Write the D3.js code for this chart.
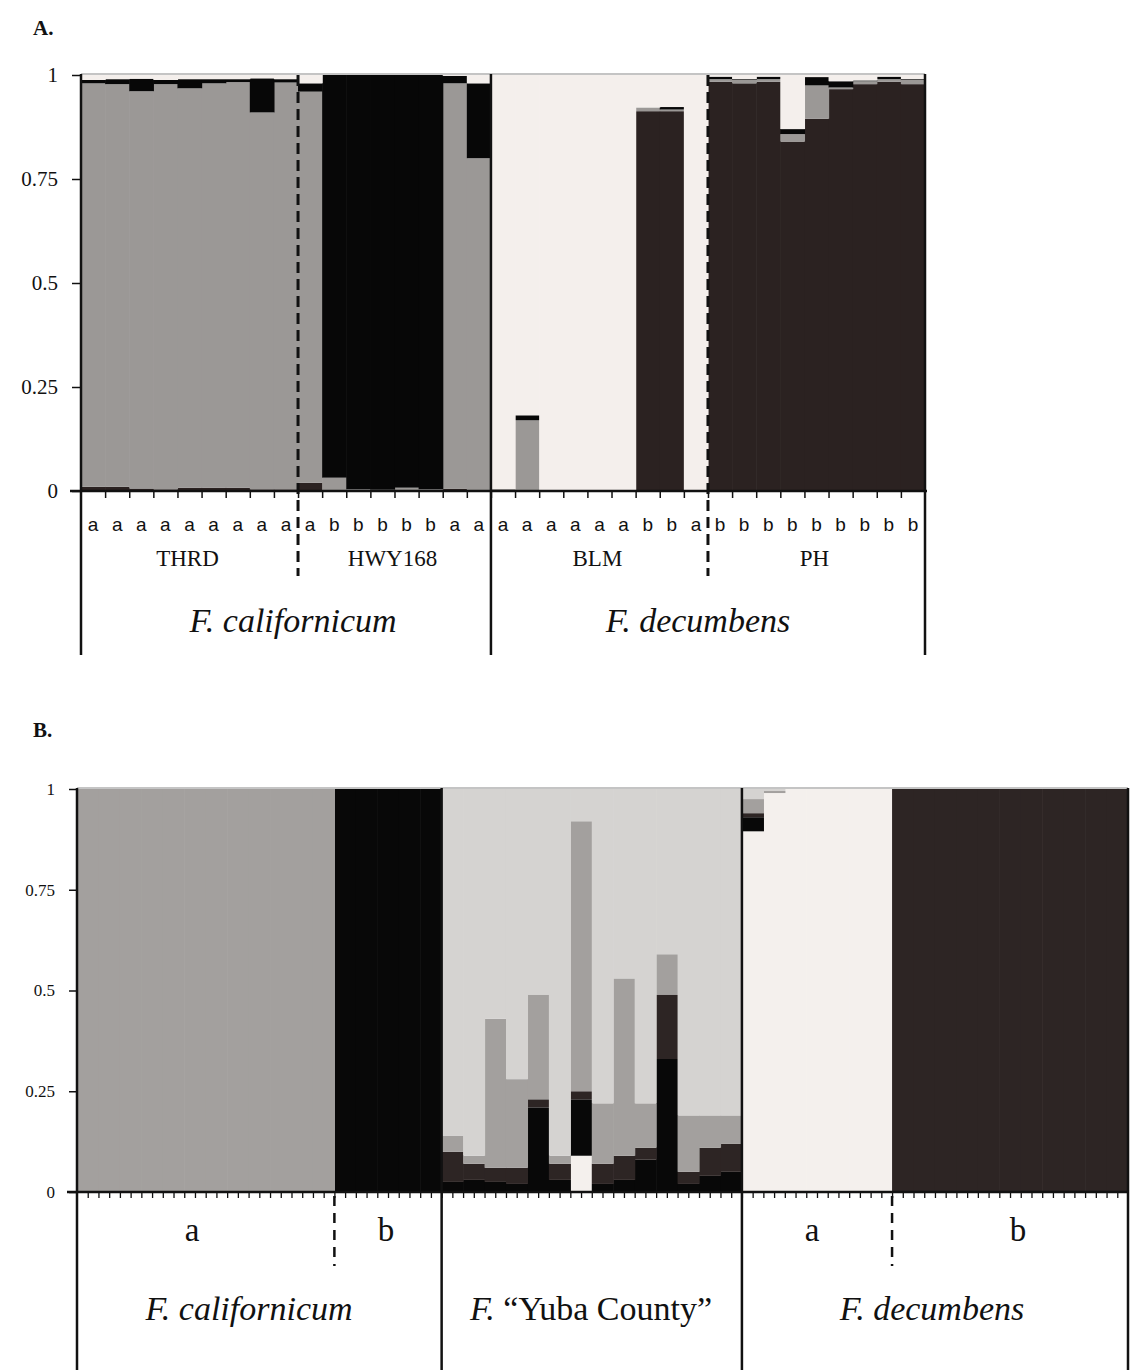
<!DOCTYPE html>
<html>
<head>
<meta charset="utf-8">
<script src="https://cdn.jsdelivr.net/npm/d3@7/dist/d3.min.js"></script>
<style>
  body { margin: 0; background: #ffffff; }
  text { font-family: "Liberation Serif", "Times New Roman", serif; fill: #111; }
</style>
</head>
<body>
<svg id="chart" width="1137" height="1370"></svg>
<script>
// ---- Panel A data (35 individuals, K = 4) ----
const popsA = ["THRD", "HWY168", "BLM", "PH"];
const popSizesA = [9, 8, 9, 9];
const lettersA = ["a","a","a","a","a","a","a","a","a",
                  "a","b","b","b","b","b","a","a",
                  "a","a","a","a","a","a","b","b","a",
                  "b","b","b","b","b","b","b","b","b"];
const clusterDarkA  = [.010,.010,.006,.004,.008,.008,.008,.004,.004, .020,0,0,0,0,0,.005,0, .004,0,0,0,0,0,.913,.913,0, .984,.980,.984,.840,.895,.966,.978,.984,.978];
const clusterGreyA  = [.970,.968,.955,.974,.960,.972,.975,.906,.978, .940,.032,.004,.003,.008,.004,.975,.800, 0,.170,0,0,0,0,.009,.004,0, .006,.008,.006,.018,.080,.004,.007,.006,.010];
const clusterBlackA = [.008,.012,.030,.010,.022,.010,.007,.082,.008, .020,.968,.996,.997,.992,.996,.018,.180, 0,.012,0,0,0,0,0,.006,0, .006,.002,.006,.012,.020,.015,.002,.006,.002];
const clusterLightA = [.012,.010,.009,.012,.010,.010,.010,.008,.010, .020,0,0,0,0,0,.002,.020, .996,.818,1,1,1,1,.078,.077,1, .004,.010,.004,.130,.005,.015,.013,.004,.010];
const speciesA = ["F. californicum", "F. decumbens"];

// ---- Panel B data (49 individuals, K = 5) ----
const groupsB = ["a", "b", "", "a", "b"];
const groupSizesB = [12, 5, 14, 7, 11];
const speciesB = ["F. californicum", "F. \u201CYuba County\u201D", "F. decumbens"];
const clusterLightB = [0,0,0,0,0,0,0,0,0,0,0,0, 0,0,0,0,0, 0,0,0,0,0,0,.09,0,0,0,0,0,0,0, .895,.99,1,1,1,1,1, 0,0,0,0,0,0,0,0,0,0,0];
const clusterBlackB = [0,0,0,0,0,0,0,0,0,0,0,0, 1,1,1,1,1, .025,.03,.025,.02,.21,.03,.14,.02,.03,.08,.33,.02,.04,.05, .035,0,0,0,0,0,0, 0,0,0,0,0,0,0,0,0,0,0];
const clusterDarkB  = [0,0,0,0,0,0,0,0,0,0,0,0, 0,0,0,0,0, .075,.04,.035,.04,.02,.04,.02,.05,.06,.03,.16,.03,.07,.07, .01,0,0,0,0,0,0, 1,1,1,1,1,1,1,1,1,1,1];
const clusterGreyB  = [1,1,1,1,1,1,1,1,1,1,1,1, 0,0,0,0,0, .04,.02,.37,.22,.26,.02,.67,.15,.44,.11,.10,.14,.08,.07, .035,.005,0,0,0,0,0, 0,0,0,0,0,0,0,0,0,0,0];
const clusterPaleB  = [0,0,0,0,0,0,0,0,0,0,0,0, 0,0,0,0,0, .86,.91,.57,.72,.51,.91,.08,.78,.47,.78,.41,.81,.81,.81, .025,.005,0,0,0,0,0, 0,0,0,0,0,0,0,0,0,0,0];

const yTicks = [0, 0.25, 0.5, 0.75, 1];

const svg = d3.select("#chart");

// cumulative boundaries of groups
function cuts(sizes) {
  let acc = 0;
  return sizes.map(s => (acc += s));
}

// ========== PANEL A ==========
{
  const n = lettersA.length;
  const rows = d3.range(n).map(i => ({
    D: clusterDarkA[i], G: clusterGreyA[i], K: clusterBlackA[i], L: clusterLightA[i]
  }));
  const colors = {D: "#2b2221", G: "#9b9896", K: "#070707", L: "#f4efec"};
  const series = d3.stack().keys(["D", "G", "K", "L"])(rows);

  const x = d3.scaleBand().domain(d3.range(n)).range([81, 925]).padding(0);
  const xi = d3.scaleLinear().domain([0, n]).range([81, 925]);
  const y = d3.scaleLinear().domain([0, 1]).range([491, 75]);

  const g = svg.append("g");

  g.selectAll("g.layer").data(series).join("g")
    .attr("fill", s => colors[s.key])
    .selectAll("rect").data(s => s).join("rect")
    .attr("x", (d, i) => x(i))
    .attr("width", x.bandwidth() + 0.6)
    .attr("y", d => y(d[1]))
    .attr("height", d => Math.max(0, y(d[0]) - y(d[1])));

  // top border
  g.append("line").attr("x1", 81).attr("x2", 925).attr("y1", 74).attr("y2", 74)
    .attr("stroke", "#8a8a8a").attr("stroke-width", 1.2);

  // y axis
  const ya = g.append("g").attr("transform", "translate(81,0)")
    .call(d3.axisLeft(y).tickValues(yTicks).tickFormat(d => d).tickSize(9).tickPadding(14));
  ya.select(".domain").remove();
  ya.selectAll("line").attr("stroke", "#111").attr("stroke-width", 1.5);
  ya.selectAll("text").attr("font-size", 21).attr("font-family", "Liberation Serif");

  // x axis ticks at bar boundaries
  const xa = g.append("g").attr("transform", "translate(0,491)")
    .call(d3.axisBottom(xi).tickValues(d3.range(1, n)).tickFormat("").tickSize(7));
  xa.select(".domain").remove();
  xa.selectAll("line").attr("stroke", "#111").attr("stroke-width", 1.5);
  g.append("line").attr("x1", 70).attr("x2", 927).attr("y1", 491).attr("y2", 491)
    .attr("stroke", "#111").attr("stroke-width", 2.5);

  // frame lines
  const c = cuts(popSizesA);
  [0, c[1], n].forEach(k => {
    g.append("line").attr("x1", xi(k)).attr("x2", xi(k)).attr("y1", 74).attr("y2", 655)
      .attr("stroke", "#111").attr("stroke-width", 2.5);
  });
  [c[0], c[2]].forEach(k => {
    g.append("line").attr("x1", xi(k)).attr("x2", xi(k)).attr("y1", 75).attr("y2", 576)
      .attr("stroke", "#111").attr("stroke-width", 3).attr("stroke-dasharray", "11,6");
  });

  // individual letters
  g.selectAll("text.ind").data(lettersA).join("text")
    .attr("x", (d, i) => x(i) + x.bandwidth() / 2)
    .attr("y", 531)
    .attr("text-anchor", "middle")
    .style("font-family", "'Liberation Sans', Arial, sans-serif")
    .attr("font-size", 19)
    .text(d => d);

  // population labels
  const starts = [0, ...c.slice(0, -1)];
  g.selectAll("text.pop").data(popsA).join("text")
    .attr("x", (d, i) => (xi(starts[i]) + xi(c[i])) / 2 - 2)
    .attr("y", 566)
    .attr("text-anchor", "middle")
    .attr("font-size", 23)
    .text(d => d);

  // species labels
  const spCenters = [293, 698];
  g.selectAll("text.sp").data(speciesA).join("text")
    .attr("x", (d, i) => spCenters[i])
    .attr("y", 632)
    .attr("text-anchor", "middle")
    .attr("font-size", 34)
    .attr("font-style", "italic")
    .text(d => d);

  svg.append("text").attr("x", 33).attr("y", 35).attr("font-size", 21)
    .attr("font-weight", "bold").text("A.");
}

// ========== PANEL B ==========
{
  const n = clusterGreyB.length;
  const rows = d3.range(n).map(i => ({
    L: clusterLightB[i], K: clusterBlackB[i], D: clusterDarkB[i], G: clusterGreyB[i], Y: clusterPaleB[i]
  }));
  const colors = {L: "#f4f0ed", K: "#080808", D: "#2d2524", G: "#a3a09e", Y: "#d5d3d1"};
  const series = d3.stack().keys(["L", "K", "D", "G", "Y"])(rows);

  const x = d3.scaleBand().domain(d3.range(n)).range([77, 1128]).padding(0);
  const xi = d3.scaleLinear().domain([0, n]).range([77, 1128]);
  const y = d3.scaleLinear().domain([0, 1]).range([1192, 789]);

  const g = svg.append("g");

  g.selectAll("g.layer").data(series).join("g")
    .attr("fill", s => colors[s.key])
    .selectAll("rect").data(s => s).join("rect")
    .attr("x", (d, i) => x(i))
    .attr("width", x.bandwidth() + 0.6)
    .attr("y", d => y(d[1]))
    .attr("height", d => Math.max(0, y(d[0]) - y(d[1])));

  g.append("line").attr("x1", 77).attr("x2", 1128).attr("y1", 788).attr("y2", 788)
    .attr("stroke", "#8a8a8a").attr("stroke-width", 1.2);

  const ya = g.append("g").attr("transform", "translate(77,0)")
    .call(d3.axisLeft(y).tickValues(yTicks).tickFormat(d => d).tickSize(8).tickPadding(14));
  ya.select(".domain").remove();
  ya.selectAll("line").attr("stroke", "#111").attr("stroke-width", 1.5);
  ya.selectAll("text").attr("font-size", 17).attr("font-family", "Liberation Serif");

  // minor ticks every half individual along the bottom
  const xa = g.append("g").attr("transform", "translate(0,1192)")
    .call(d3.axisBottom(xi).tickValues(d3.range(0.5, n, 0.5)).tickFormat("").tickSize(6));
  xa.select(".domain").remove();
  xa.selectAll("line").attr("stroke", "#111").attr("stroke-width", 1.3);
  g.append("line").attr("x1", 67).attr("x2", 1128).attr("y1", 1192).attr("y2", 1192)
    .attr("stroke", "#111").attr("stroke-width", 2.5);

  const c = cuts(groupSizesB);
  [0, c[1], c[2], n].forEach(k => {
    g.append("line").attr("x1", xi(k)).attr("x2", xi(k)).attr("y1", 788).attr("y2", 1370)
      .attr("stroke", "#111").attr("stroke-width", 2.5);
  });
  [c[0], c[3]].forEach(k => {
    g.append("line").attr("x1", xi(k)).attr("x2", xi(k)).attr("y1", 1196).attr("y2", 1266)
      .attr("stroke", "#111").attr("stroke-width", 2.5).attr("stroke-dasharray", "10,7");
  });

  const groupX = [192, 386, 0, 812, 1018];
  g.selectAll("text.grp").data(groupsB).join("text")
    .attr("x", (d, i) => groupX[i])
    .attr("y", 1241)
    .attr("text-anchor", "middle")
    .attr("font-size", 33)
    .text(d => d);

  const spCenters = [249, 591, 932];
  const sp = g.selectAll("text.sp").data(speciesB).join("text")
    .attr("x", (d, i) => spCenters[i])
    .attr("y", 1320)
    .attr("text-anchor", "middle")
    .attr("font-size", 34);
  sp.each(function(d) {
    const t = d3.select(this);
    const genus = d.slice(0, 2);
    const rest = d.slice(2);
    t.append("tspan").attr("font-style", "italic").text(genus);
    t.append("tspan").attr("font-style", rest.includes("\u201C") ? "normal" : "italic").text(rest);
  });

  svg.append("text").attr("x", 33).attr("y", 737).attr("font-size", 21)
    .attr("font-weight", "bold").text("B.");
}
</script>
</body>
</html>
